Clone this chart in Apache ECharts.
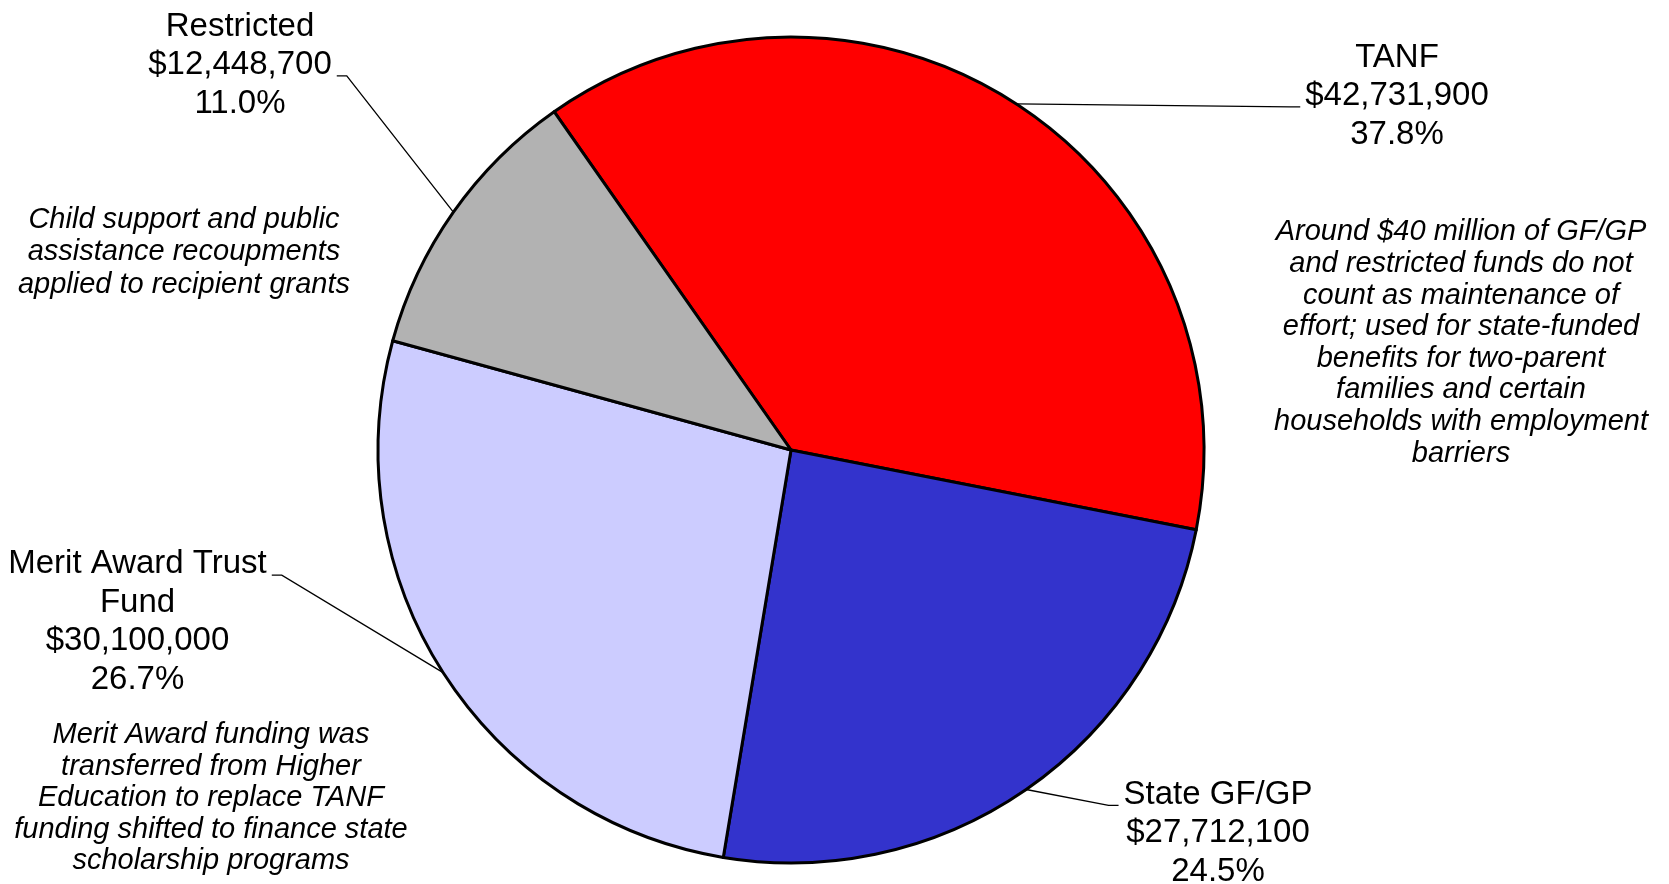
<!DOCTYPE html>
<html>
<head>
<meta charset="utf-8">
<script src="https://cdn.jsdelivr.net/npm/echarts@6/dist/echarts.min.js"></script>
<style>
html,body{margin:0;padding:0;background:#fff;}
#chart{width:1669px;height:884px;}
</style>
</head>
<body>
<div id="chart"></div>
<script>
// ---- data ----
const categories = ['TANF', 'State GF/GP', 'Merit Award Trust\nFund', 'Restricted'];
const amounts = [42731900, 27712100, 30100000, 12448700];
const sliceColors = ['#FF0000', '#3333CC', '#CCCCFF', '#B2B2B2'];

const noteRestricted = ['Child support and public', 'assistance recoupments', 'applied to recipient grants'];
const noteTanf = ['Around $40 million of GF/GP', 'and restricted funds do not', 'count as maintenance of',
  'effort; used for state-funded', 'benefits for two-parent', 'families and certain',
  'households with employment', 'barriers'];
const noteMerit = ['Merit Award funding was', 'transferred from Higher', 'Education to replace TANF',
  'funding shifted to finance state', 'scholarship programs'];

// ---- layout / style ----
const FONT = '"Liberation Sans", Arial, Helvetica, sans-serif';
const FS = 33, LH = 38.5, GAP = 5, KNEE = 10;
const PIE_CENTER = [791, 450], PIE_R = 413, START_ANGLE = 125;
// label block centres and where the leader line attaches
const labelPlacement = [
  { x: 1397, y: 96, side: 'left', line: 1 },
  { x: 1218, y: 833, side: 'left', line: 0 },
  { x: 137.5, y: 622, side: 'right', line: 0 },
  { x: 240, y: 65, side: 'right', line: 1 }
];
const notePlacement = [
  { lines: noteRestricted, x: 184, y: 252, lh: 32.5 },
  { lines: noteTanf, x: 1461, y: 343, lh: 31.6 },
  { lines: noteMerit, x: 211, y: 798, lh: 31.5 }
];

const total = amounts.reduce((a, b) => a + b, 0);
function midEdgePoint(i) {
  let before = 0;
  for (let k = 0; k < i; k++) before += amounts[k];
  const mid = (START_ANGLE - (before + amounts[i] / 2) / total * 360) * Math.PI / 180;
  return [PIE_CENTER[0] + PIE_R * Math.cos(mid), PIE_CENTER[1] - PIE_R * Math.sin(mid)];
}

const chart = echarts.init(document.getElementById('chart'), null, { renderer: 'canvas' });
chart.setOption({
  backgroundColor: '#ffffff',
  animation: false,
  graphic: notePlacement.map(n => ({
    type: 'text',
    x: n.x,
    y: n.y,
    silent: true,
    style: {
      text: n.lines.join('\n'),
      fontFamily: FONT,
      fontStyle: 'italic',
      fontSize: 29,
      lineHeight: n.lh,
      fill: '#000',
      align: 'center',
      verticalAlign: 'middle'
    }
  })),
  series: [{
    type: 'pie',
    center: PIE_CENTER,
    radius: PIE_R,
    startAngle: START_ANGLE,
    clockwise: true,
    percentPrecision: 1,
    avoidLabelOverlap: false,
    emphasis: { disabled: true },
    itemStyle: { borderColor: '#000', borderWidth: 3 },
    label: {
      show: true,
      position: 'outside',
      color: '#000',
      fontFamily: FONT,
      fontSize: FS,
      lineHeight: LH,
      align: 'center',
      formatter: p => p.name + '\n$' + p.value.toLocaleString('en-US') + '\n' + p.percent.toFixed(1) + '%'
    },
    labelLine: { show: true, lineStyle: { color: '#000', width: 1.3 } },
    labelLayout: function (p) {
      const pl = labelPlacement[p.dataIndex];
      const w = p.labelRect.width, h = p.labelRect.height;
      const n = Math.max(1, Math.round(h / LH));
      const top = pl.y - n * LH / 2;
      const ly = top + (pl.line + 0.5) * LH + 0.33 * FS;
      const dir = pl.side === 'left' ? -1 : 1;
      const ex = pl.x + dir * (w / 2 + GAP);
      const start = (p.labelLinePoints && p.labelLinePoints[0]) || midEdgePoint(p.dataIndex);
      return {
        x: pl.x, y: pl.y, align: 'center', verticalAlign: 'middle',
        labelLinePoints: [start, [ex + dir * KNEE, ly], [ex, ly]]
      };
    },
    data: categories.map((c, i) => ({ name: c, value: amounts[i], itemStyle: { color: sliceColors[i] } }))
  }]
});
</script>
</body>
</html>
